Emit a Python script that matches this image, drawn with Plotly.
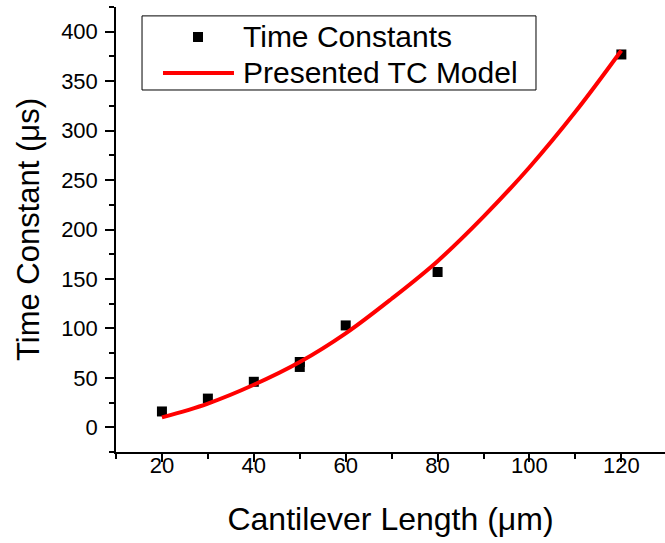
import plotly.graph_objects as go

# Measured data
lengths = [20, 30, 40, 50, 50, 60, 80, 120]
time_constants = [16, 29, 46, 66, 61, 103, 157, 377]

# Model curve
model_x = [20, 30, 40, 50, 60, 70, 80, 90, 100, 110, 120]
model_y = [10, 24, 43, 66, 95, 130, 168, 213, 263, 319, 381]

x_ticks = [20, 40, 60, 80, 100, 120]
y_ticks = [0, 50, 100, 150, 200, 250, 300, 350, 400]

series_names = ["Time Constants", "Presented TC Model"]

FONT = "Arial, Liberation Sans, sans-serif"

fig = go.Figure()
fig.add_trace(go.Scatter(
    x=lengths, y=time_constants, mode="markers", name=series_names[0],
    marker=dict(symbol="square", size=10, color="black"),
))
fig.add_trace(go.Scatter(
    x=model_x, y=model_y, mode="lines", name=series_names[1],
    line=dict(color="red", width=4, shape="spline"),
))

# Legend box drawn in paper coordinates (plot area spans 116..665 px, 7..452 px)
fig.add_shape(type="rect", xref="paper", yref="paper",
              x0=0.0474, x1=0.765, y0=0.8135, y1=0.980,
              line=dict(color="black", width=1), fillcolor="white", layer="above")
# marker swatch
fig.add_shape(type="rect", xref="paper", yref="paper",
              xsizemode="pixel", ysizemode="pixel",
              xanchor=0.1494, yanchor=0.9326,
              x0=-5, x1=5, y0=-5, y1=5,
              line=dict(width=0), fillcolor="black", layer="above")
# line swatch
fig.add_shape(type="line", xref="paper", yref="paper",
              x0=0.0856, x1=0.2149, y0=0.8517, y1=0.8517,
              line=dict(color="red", width=4), layer="above")
for name, yy in zip(series_names, [0.9326, 0.8517]):
    fig.add_annotation(text=name, xref="paper", yref="paper",
                       x=0.227, y=yy, xanchor="left", yanchor="middle",
                       showarrow=False,
                       font=dict(size=30, family=FONT, color="black"))

fig.update_layout(
    width=665, height=543,
    margin=dict(l=116, r=0, t=7, b=91),
    paper_bgcolor="white", plot_bgcolor="white",
    font=dict(family=FONT, color="black"),
    showlegend=False,
    xaxis=dict(
        range=[10, 129.5], tickvals=x_ticks,
        showline=True, linecolor="black", linewidth=1.5,
        ticks="outside", ticklen=8, tickwidth=1.5, tickcolor="black",
        minor=dict(dtick=10, tick0=10, ticks="outside", ticklen=5, tickwidth=1.5, tickcolor="black"),
        showgrid=False, zeroline=False,
        tickfont=dict(size=22),
        ticklabelstandoff=-15,
        title=dict(text="Cantilever Length (\u03bcm)", font=dict(size=32), standoff=30),
    ),
    yaxis=dict(
        range=[-25, 425], tickvals=y_ticks,
        showline=True, linecolor="black", linewidth=1.5,
        ticks="outside", ticklen=9, tickwidth=1.5, tickcolor="black",
        minor=dict(dtick=25, tick0=0, ticks="outside", ticklen=5, tickwidth=1.5, tickcolor="black"),
        showgrid=False, zeroline=False,
        tickfont=dict(size=22),
        ticklabelstandoff=3,
        title=dict(text="Time Constant (\u03bcs)", font=dict(size=31), standoff=12),
    ),
)

fig.write_html("out.html")
